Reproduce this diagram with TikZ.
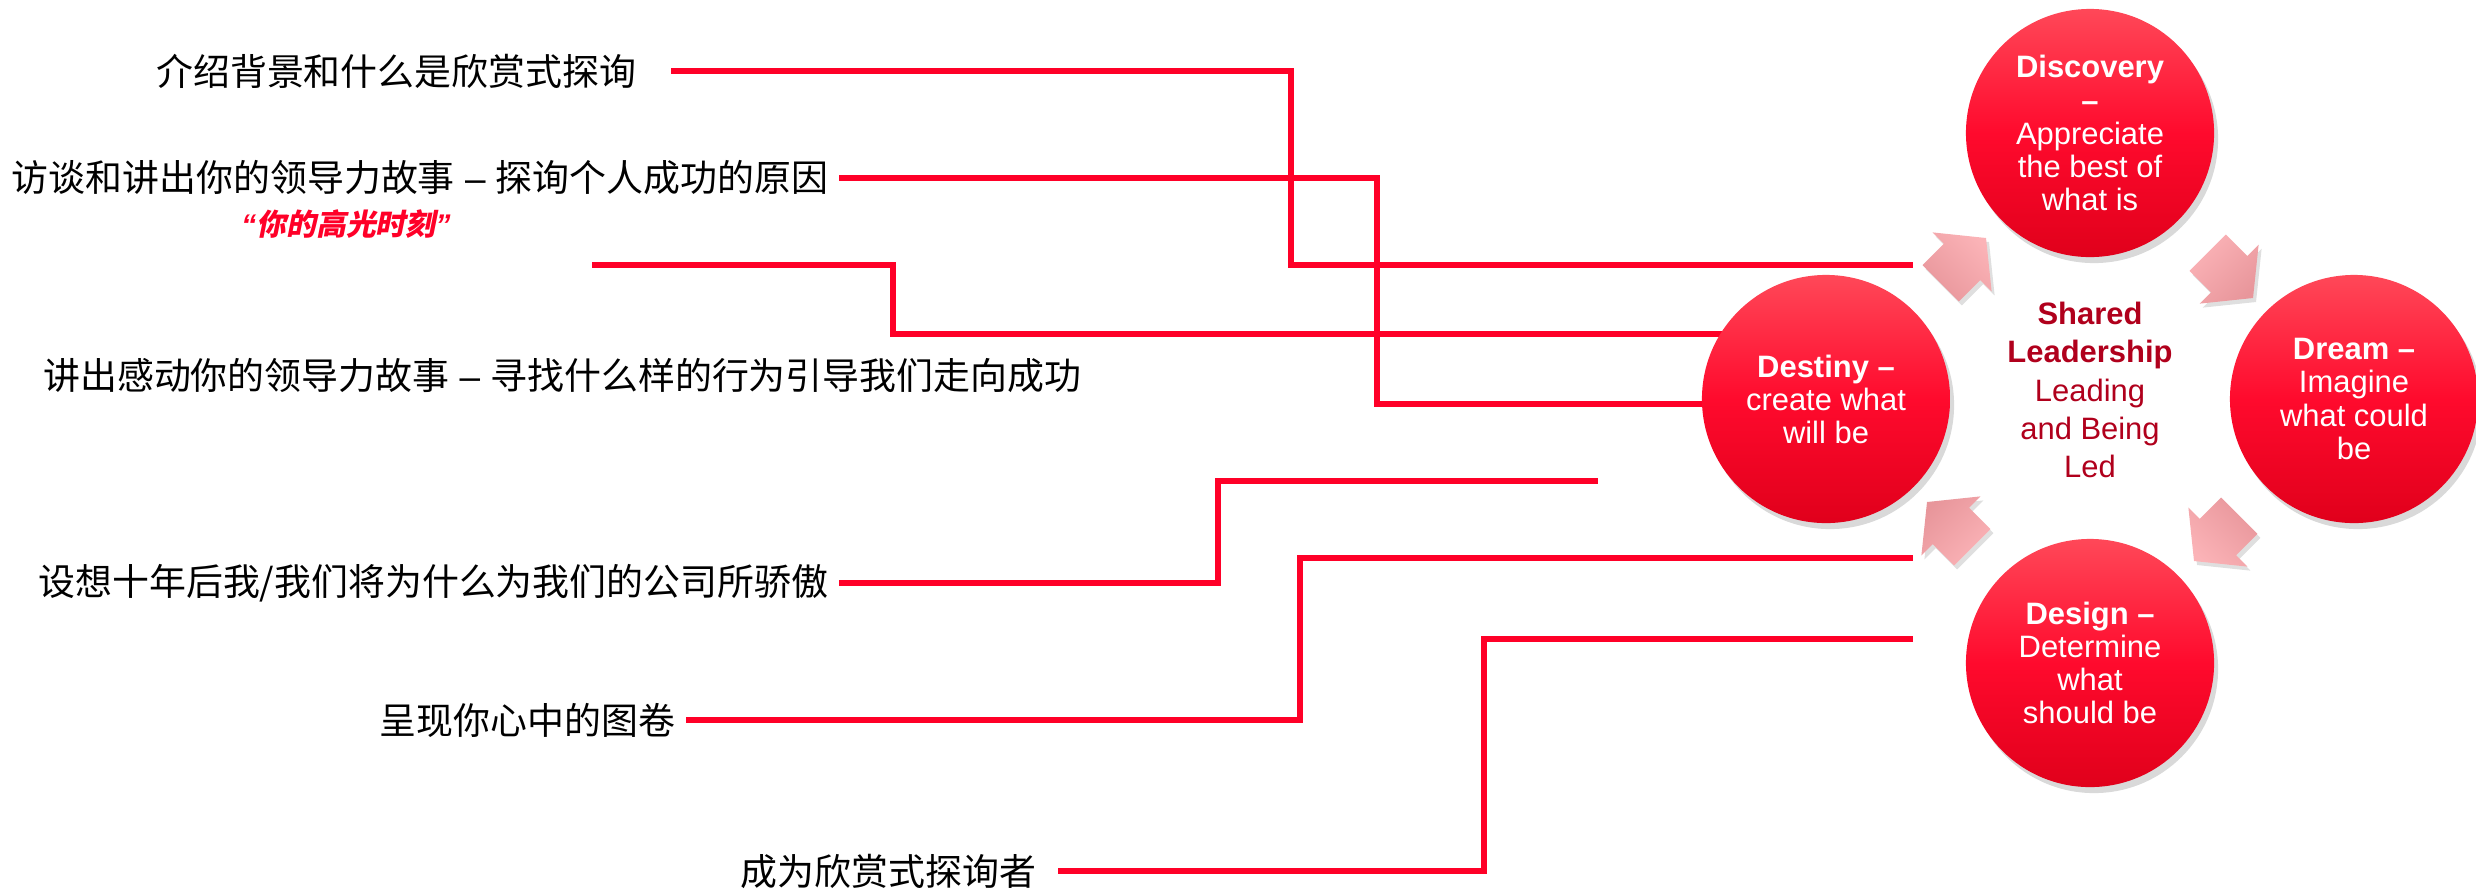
\documentclass[tikz,border=0pt]{standalone}
\usepackage{fontspec}
\setmainfont{Liberation Sans}
\newfontfamily\cjk{Noto Sans CJK SC}
\newfontfamily\cjkslant[FakeSlant=0.2]{Noto Sans CJK SC}
\usetikzlibrary{shapes.arrows,shadows,backgrounds}

\definecolor{linkred}{HTML}{FF0028}
\definecolor{phasetop}{HTML}{FF4858}
\definecolor{phasemid}{HTML}{FF0A2D}
\definecolor{phasebot}{HTML}{E0001B}
\definecolor{arrowtop}{HTML}{FBB3B7}
\definecolor{arrowbot}{HTML}{E8969B}
\definecolor{coretext}{HTML}{B0001C}

\tikzset{
  item/.style={anchor=east, inner xsep=0.1cm, inner ysep=0pt, font=\cjk\fontsize{10.5}{12}\selectfont},
  highlight/.style={inner sep=0pt, text=linkred, font=\bfseries\itshape\fontsize{8.5}{10}\selectfont},
  link/.style={draw=linkred, line width=1.5pt},
  phase/.style={circle, minimum size=2.48cm, inner sep=0pt, align=center, text=white,
    font=\fontsize{8.8}{9.4}\selectfont,
    drop shadow={opacity=0.3, shadow xshift=0.04cm, shadow yshift=-0.06cm},
    top color=phasetop, bottom color=phasebot, middle color=phasemid},
  core/.style={align=center, text=coretext, font=\fontsize{8.8}{10.9}\selectfont},
  cyclearrow/.style={single arrow, minimum height=0.64cm, minimum width=0.82cm,
    single arrow head extend=0.16cm, single arrow tip angle=102,
    inner xsep=0pt, inner ysep=0.25cm,
    drop shadow={opacity=0.25, shadow xshift=0.03cm, shadow yshift=-0.04cm},
    top color=arrowtop, bottom color=arrowbot}
}

\begin{document}
\begin{tikzpicture}[x=0.01cm, y=-0.01cm]
  \useasboundingbox (0,0) rectangle (2476,893);

  % the four phases
  \node[phase] (discovery) at (2090,133) {\textbf{Discovery}\\\textbf{–}\\Appreciate\\the best of\\what is};
  \node[phase] (dream) at (2354,399) {\textbf{Dream –}\\Imagine\\what could\\be};
  \node[phase] (design) at (2090,663) {\textbf{Design –}\\Determine\\what\\should be};
  \node[phase] (destiny) at (1826,399) {\textbf{Destiny –}\\create what\\will be};
  \node[core] (shared) at (2090,390) {\textbf{Shared}\\\textbf{Leadership}\\Leading\\and Being\\Led};

  \node[cyclearrow, rotate=45, shading angle=-45] (a1) at (1956,268) {};
  \node[cyclearrow, rotate=-45, shading angle=45] (a2) at (2223,268) {};
  \node[cyclearrow, rotate=-135, shading angle=135] (a3) at (2224,531) {};
  \node[cyclearrow, rotate=135, shading angle=-135] (a4) at (1957,532) {};

  % workshop steps
  \node[item] (t1) at (647,71) {介绍背景和什么是欣赏式探询};
  \node[item] (t2) at (839,178) {访谈和讲出你的领导力故事{\rmfamily\ – }探询个人成功的原因};
  \node[highlight] (hl) at (346,224) {“{\cjkslant 你的高光时刻}”};
  \node[item] (t3) at (1092,376) {讲出感动你的领导力故事{\rmfamily\ – }寻找什么样的行为引导我们走向成功};
  \node[item] (t4) at (839,583) {设想十年后我/我们将为什么为我们的公司所骄傲};
  \node[item] (t5) at (686,720) {呈现你心中的图卷};
  \node[item] (t6) at (1047,871) {成为欣赏式探询者};

  \coordinate (s3) at (592,265);
  \coordinate (e1) at (1913,265);
  \coordinate (e4) at (1598,481);
  \coordinate (e5) at (1913,558);
  \coordinate (e6) at (1913,639);

  \begin{scope}[on background layer]
    \draw[link, shorten <=0.24cm] (t1.east) -| (1291,265) -- (e1);
    \draw[link] (t2.east) -| (1377,404) -- (destiny |- 0,404);
    \draw[link] (s3) -| (893,334) -- (destiny |- 0,334);
    \draw[link] (t4.east) -| (1218,481) -- (e4);
    \draw[link] (t5.east) -| (1300,558) -- (e5);
    \draw[link, shorten <=0.11cm] (t6.east) -| (1484,639) -- (e6);
  \end{scope}
\end{tikzpicture}
\end{document}
